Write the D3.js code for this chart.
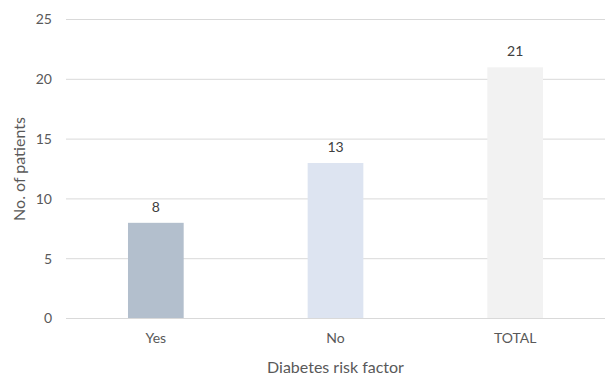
<!DOCTYPE html>
<html>
<head>
<meta charset="utf-8">
<script src="https://cdn.jsdelivr.net/npm/d3@7"></script>
<style>
  html, body { margin: 0; padding: 0; background: #ffffff; }
  svg { display: block; font-family: Lato, "Open Sans", sans-serif; }
</style>
</head>
<body>
<svg id="chart" width="611" height="376"></svg>
<script>
const categories = ["Yes", "No", "TOTAL"];
const patients = [8, 13, 21];
const yTicks = [0, 5, 10, 15, 20, 25];
const barColors = ["#b3bfcd", "#dde4f1", "#f2f2f2"];

const svg = d3.select("#chart");
const margin = { left: 66, right: 6, top: 19.5, bottom: 57.5 };
const W = 611, H = 376;

const x = d3.scaleBand()
  .domain(categories)
  .range([margin.left, W - margin.right])
  .paddingInner(0.69)
  .paddingOuter(0.345);

const y = d3.scaleLinear()
  .domain([0, 25])
  .range([H - margin.bottom, margin.top]);

// horizontal gridlines
svg.append("g")
  .selectAll("line")
  .data(yTicks)
  .join("line")
  .attr("x1", margin.left)
  .attr("x2", W - margin.right)
  .attr("y1", d => y(d))
  .attr("y2", d => y(d))
  .attr("stroke", "#d9d9d9")
  .attr("stroke-width", 1);

// y tick labels
const yAxis = d3.axisLeft(y).tickValues(yTicks).tickSize(0).tickPadding(14);
const yg = svg.append("g")
  .attr("transform", `translate(${margin.left},0)`)
  .call(yAxis);
yg.select(".domain").remove();
yg.selectAll("text")
  .attr("fill", "#595959")
  .style("font-size", "14px")
  .style("font-family", "Lato, 'Open Sans', sans-serif");

// bars
svg.append("g")
  .selectAll("rect")
  .data(categories)
  .join("rect")
  .attr("x", d => x(d))
  .attr("width", x.bandwidth())
  .attr("y", (d, i) => y(patients[i]))
  .attr("height", (d, i) => y(0) - y(patients[i]))
  .attr("fill", (d, i) => barColors[i]);

// baseline redrawn over bars
svg.append("line")
  .attr("x1", margin.left)
  .attr("x2", W - margin.right)
  .attr("y1", y(0))
  .attr("y2", y(0))
  .attr("stroke", "#d9d9d9");

// value labels
svg.append("g")
  .selectAll("text")
  .data(categories)
  .join("text")
  .attr("x", d => x(d) + x.bandwidth() / 2)
  .attr("y", (d, i) => y(patients[i]) - 11)
  .attr("text-anchor", "middle")
  .attr("fill", "#404040")
  .style("font-size", "14px")
  .text((d, i) => patients[i]);

// x category labels
const xAxis = d3.axisBottom(x).tickSize(0).tickPadding(15);
const xg = svg.append("g")
  .attr("transform", `translate(0,${y(0)})`)
  .call(xAxis);
xg.select(".domain").remove();
xg.selectAll("text")
  .attr("fill", "#595959")
  .style("font-size", "14px")
  .style("font-family", "Lato, 'Open Sans', sans-serif");

// axis titles
svg.append("text")
  .attr("x", (margin.left + W - margin.right) / 2)
  .attr("y", 373)
  .attr("text-anchor", "middle")
  .attr("fill", "#595959")
  .style("font-size", "16px")
  .text("Diabetes risk factor");

svg.append("text")
  .attr("transform", `translate(25,${(y(0) + y(25)) / 2}) rotate(-90)`)
  .attr("text-anchor", "middle")
  .attr("fill", "#595959")
  .style("font-size", "16px")
  .text("No. of patients");
</script>
</body>
</html>
